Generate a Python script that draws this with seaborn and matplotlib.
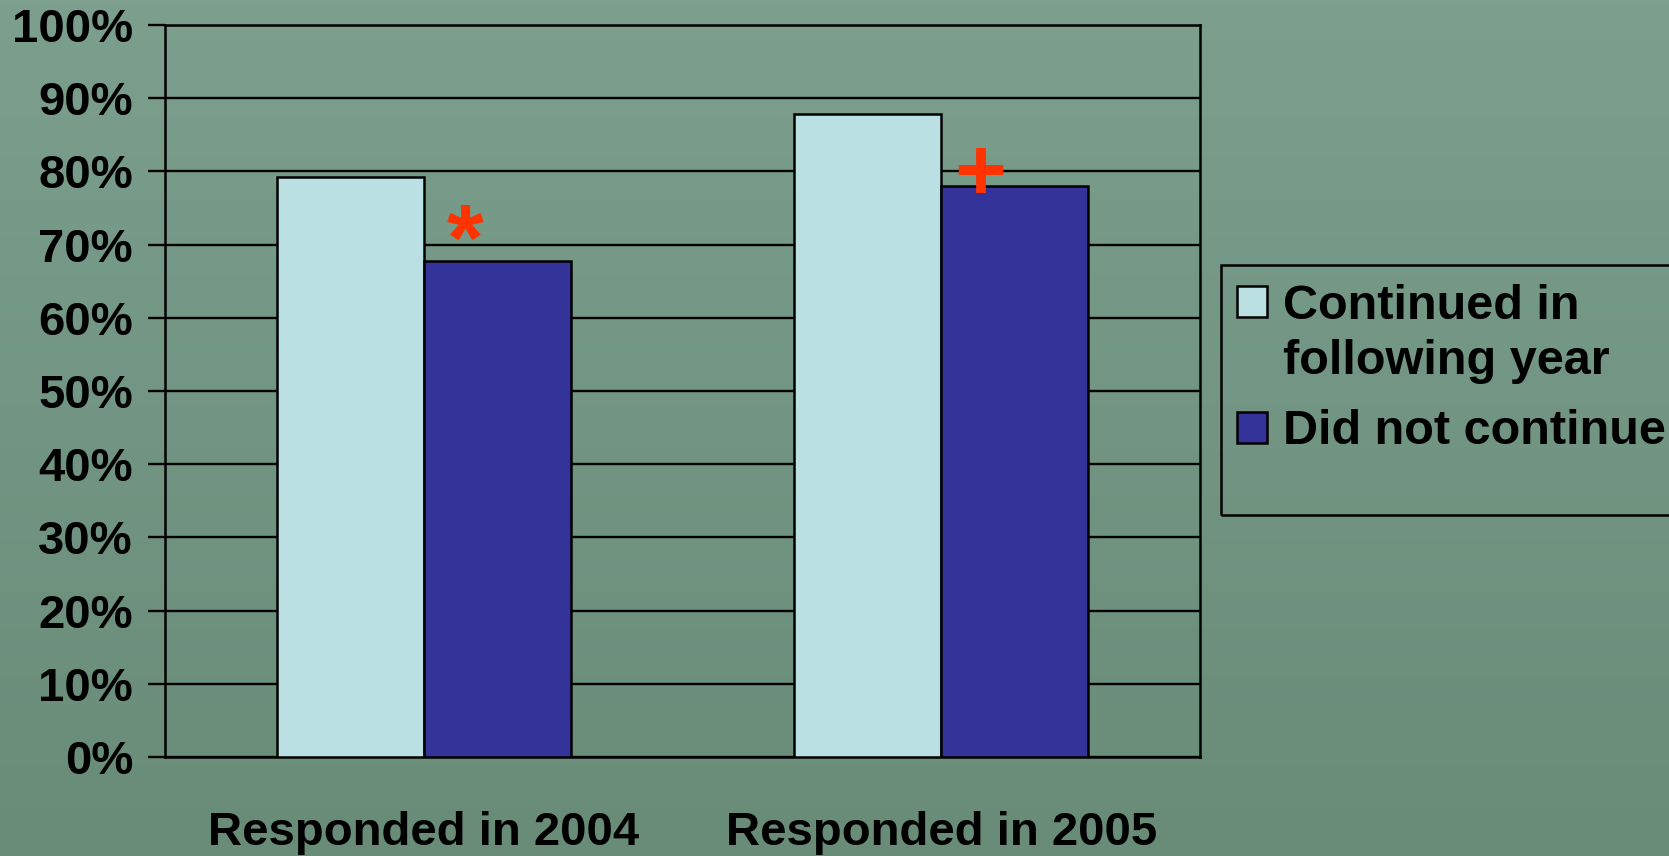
import numpy as np
import pandas as pd
import matplotlib
matplotlib.use("Agg")
import matplotlib.pyplot as plt
import seaborn as sns
from matplotlib.patches import Rectangle, Patch

categories = ["Responded in 2004", "Responded in 2005"]
series_names = ["Continued in following year", "Did not continue"]
legend_lines = ["Continued in", "following year", "Did not continue"]
continued = [79.2, 87.9]
did_not = [67.8, 78.0]
markers = ["*", "+"]
marker_x = [0.08, 1.075]
marker_y = [66.6, 76.1]
yticks = [0, 10, 20, 30, 40, 50, 60, 70, 80, 90, 100]
ytick_labels = [f"{v}%" for v in yticks]

sns.set_theme(style="white")
plt.rcParams['font.family'] = ['Liberation Sans', 'DejaVu Sans']
plt.rcParams['font.weight'] = 'bold'
plt.rcParams['text.color'] = 'black'
plt.rcParams['xtick.color'] = 'black'
plt.rcParams['ytick.color'] = 'black'

df = pd.DataFrame({
    "category": categories * 2,
    "series": [series_names[0]] * 2 + [series_names[1]] * 2,
    "value": continued + did_not,
})

W, H = 1669, 856
fig = plt.figure(figsize=(W / 100, H / 100), dpi=100)

# background gradient
bg = fig.add_axes([0, 0, 1, 1], zorder=-10)
grad = np.linspace(0, 1, 256)[:, None] * np.ones((1, 16))
top = np.array([124, 159, 142]) / 255
bot = np.array([104, 140, 120]) / 255
img = top[None, None, :] * (1 - grad[..., None]) + bot[None, None, :] * grad[..., None]
bg.imshow(img, aspect="auto", extent=[0, 1, 0, 1])
bg.axis("off")

ax = fig.add_axes([165 / W, 1 - 757 / H, (1200 - 165) / W, (757 - 25) / H])
ax.set_facecolor("none")

palette = {series_names[0]: "#bbe0e3", series_names[1]: "#333399"}
sns.barplot(data=df, x="category", y="value", hue="series", palette=palette,
            width=0.568, gap=0, edgecolor="black", linewidth=1.8,
            saturation=1, ax=ax, legend=False, zorder=3)

ax.set_ylim(0, 100)
ax.set_xlim(-0.5, 1.5)
ax.set_yticks(yticks)
ax.set_yticklabels(ytick_labels, fontsize=34, fontweight="bold", color="black")
ax.yaxis.grid(True, color="black", linewidth=1.7, zorder=0)
ax.set_axisbelow(True)
ax.set_xticks([0, 1])
ax.set_xticklabels(categories, fontsize=34, fontweight="bold", color="black")
ax.set_xticks([-0.5, 0.5, 1.5], minor=True)
ax.tick_params(axis="x", which="major", length=0, pad=39)
ax.tick_params(axis="x", which="minor", length=10, width=1.7, color="black", direction="out")
ax.tick_params(axis="y", length=12, width=1.7, color="black", direction="out", pad=11, left=True)
ax.set_xlabel("")
ax.set_ylabel("")
for s in ax.spines.values():
    s.set_visible(True)
    s.set_color("black")
    s.set_linewidth(1.8)

# significance markers
ax.text(marker_x[0], marker_y[0], markers[0], color="#ff3300", fontsize=68,
        fontweight="bold", ha="center", va="baseline", zorder=5)
ax.text(marker_x[1], marker_y[1], markers[1], color="#ff3300", fontsize=64,
        fontweight="bold", ha="center", va="baseline", zorder=5)

# legend (two parts so that the handle sits on the first line of the wrapped label)
leg_kw = dict(frameon=False, prop={"weight": "bold", "size": 35},
              handlelength=0.62, handleheight=0.62, handletextpad=0.33,
              borderpad=0, borderaxespad=0, loc="center left")
h1 = Patch(facecolor=palette[series_names[0]], edgecolor="black", linewidth=1.8)
h_blank = Patch(facecolor="none", edgecolor="none")
h2 = Patch(facecolor=palette[series_names[1]], edgecolor="black", linewidth=1.8)
legA = fig.legend([h1, h_blank], legend_lines[:2], labelspacing=0.22,
                  bbox_to_anchor=(1237 / W, 1 - 334 / H), **leg_kw)
legB = fig.legend([h2], legend_lines[2:], labelspacing=0.0,
                  bbox_to_anchor=(1237 / W, 1 - 432 / H), **leg_kw)
for leg in (legA, legB):
    for t in leg.get_texts():
        t.set_color("black")

fig.patches.append(Rectangle((1221 / W, 1 - 515 / H), (1700 - 1221) / W, (515 - 265) / H,
                             transform=fig.transFigure, fill=False, edgecolor="black",
                             linewidth=1.8, clip_on=False))

fig.savefig("out.png", dpi=100)
